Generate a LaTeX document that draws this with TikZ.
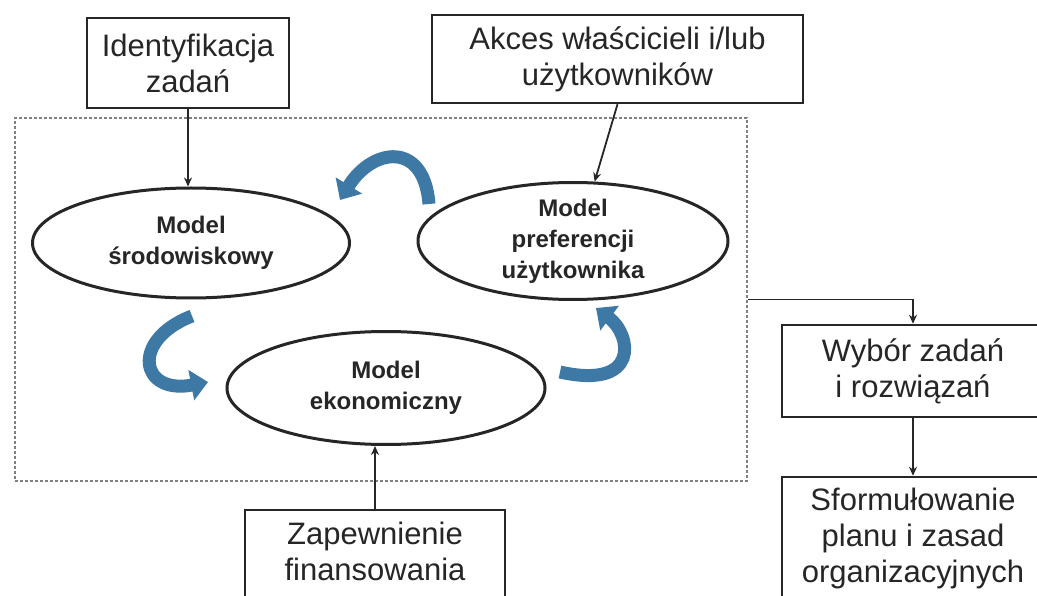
\documentclass[tikz,border=0pt]{standalone}
\usepackage{fontspec}
\setmainfont{Liberation Sans}
\usetikzlibrary{arrows.meta, shapes.geometric}
\definecolor{spinblue}{RGB}{62,121,166}
\definecolor{inkgray}{RGB}{38,38,38}

\begin{document}
\begin{tikzpicture}[x=1pt, y=-1pt, >={Stealth[length=9pt, width=8pt]},
		box/.style={draw=inkgray, line width=2.5pt, text=inkgray, align=center, inner sep=0pt, font=\fontsize{31}{36}\selectfont},
		model/.style={ellipse, draw=inkgray, line width=3pt, text=inkgray, align=center, inner sep=-2pt, font=\bfseries\fontsize{24}{31}\selectfont},
		frame/.style={draw=gray, line width=1.2pt, dash pattern=on 3pt off 2pt, inner sep=0pt},
		link/.style={->, draw=inkgray, line width=1.8pt},
		spin/.style={-{Triangle[length=17pt, width=30pt]}, draw=spinblue, line width=13pt}]
		\useasboundingbox (0, 0) rectangle (1037, 596);
		\clip (0, 0) rectangle (1037, 596);
		\fill[white] (0, 0) rectangle (1037, 596);
		
		\node[frame, minimum width=732pt, minimum height=363pt] (frame) at (381, 299.5) {};
		
		\node[box, minimum width=202pt, minimum height=90pt] (iden) at (188, 63) {Identyfikacja\\zadań};
		\node[box, minimum width=371pt, minimum height=88pt] (akces) at (617.5, 59) {Akces właścicieli i/lub\\użytkowników};
		\node[box, minimum width=260pt, minimum height=100pt, text depth=17pt] (zap) at (375, 560) {Zapewnienie\\finansowania};
		\node[box, minimum width=262pt, minimum height=92pt] (wybor) at (913, 371) {Wybór zadań\\i rozwiązań};
		\node[box, minimum width=262pt, minimum height=122pt] (sform) at (913, 538) {Sformułowanie\\planu i zasad\\organizacyjnych};
		
		\node[model, minimum width=317pt, minimum height=110pt] (srod) at (191, 243) {Model\\środowiskowy};
		\node[model, minimum width=310pt, minimum height=117pt] (pref) at (573, 241) {Model\\preferencji\\użytkownika};
		\node[model, minimum width=318pt, minimum height=113pt] (ekon) at (386, 388) {Model\\ekonomiczny};
		
		% feeds into the models
		\draw[link] (iden.south) -- (iden.south |- srod.north);
		\draw[link] (akces.south) -- (pref.70);
		\draw[link] (zap.north) -- (zap.north |- ekon.south);
		\draw[link] (frame.east) -| (wybor.north);
		\draw[link] (wybor) -- (sform);
		
		% cycle between the models
		\draw[spin] (429, 204) .. controls (424, 140) and (372, 148) .. (340, 200);
		\draw[spin] (192, 316) .. controls (130, 340) and (140, 395) .. (208, 382);
		\draw[spin] (560, 372) .. controls (640, 390) and (632, 335) .. (596, 308);
	\end{tikzpicture}
\end{document}
